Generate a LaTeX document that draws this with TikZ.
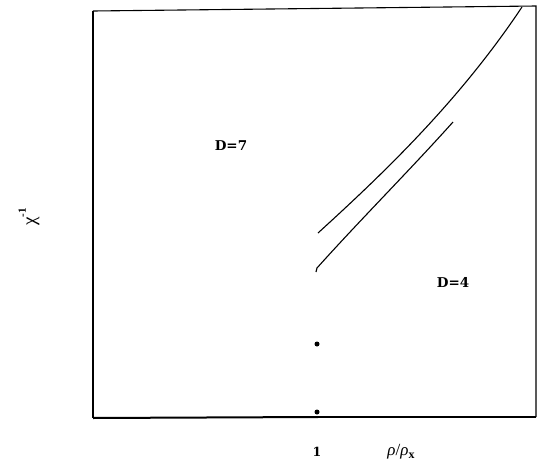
\documentclass[tikz,border=0pt]{standalone}
\usepackage{fontspec}
\setmainfont{Liberation Serif}
\newfontfamily\labfont{DejaVu Serif}
\begin{document}
\begin{tikzpicture}[x=1pt,y=-1pt,
  lbl/.style={inner sep=0pt,font=\labfont\bfseries\fontsize{13.5}{15}\selectfont},
  curve/.style={line width=1.1pt},
  dot/.style={circle,fill=black,inner sep=0pt,minimum size=5pt}]
\useasboundingbox (0,0) rectangle (539,461);
% frame
\draw[line width=1.1pt] (93,11) -- (536,6) -- (536,417);
\draw[line width=1.1pt] (93,11) -- (93,418);
\draw[line width=1.1pt] (318,417) -- (536,417);
\draw[line width=2pt] (93,418) -- (318,417);
% curves
\draw[curve] (318,233) .. controls (385,172) and (460,100) .. (522,7);
\draw[curve] (316,272) -- (317,268) .. controls (360,220) and (410,170) .. (453,122);
% dots
\node[dot] (d1) at (317,344) {};
\node[dot] (d2) at (317,412) {};
% labels
\node[lbl] (l7) at (231,146) {D=7};
\node[lbl] (l4) at (453,282) {D=4};
\node[rotate=90,inner sep=0pt,font=\fontsize{19}{21}\selectfont] (ly) at (29,217) {χ\raisebox{1.1ex}{\fontsize{11}{12}\selectfont\bfseries -1}};
\node[lbl,font=\labfont\bfseries\fontsize{12.5}{14}\selectfont] (l1) at (317,452) {1};
\node[inner sep=0pt,font=\fontsize{17}{19}\selectfont] (lx) at (401,452) {\textit{ρ}/\textit{ρ}\raisebox{-0.3ex}{\fontsize{12}{13}\selectfont\bfseries x}};
\end{tikzpicture}
\end{document}
